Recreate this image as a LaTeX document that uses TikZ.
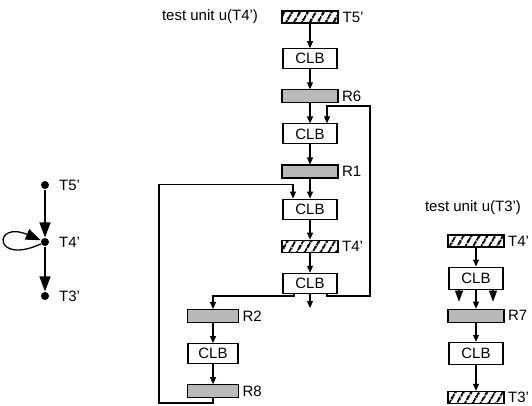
\documentclass[tikz,border=0pt]{standalone}
\usepackage{fontspec}
\setmainfont{Liberation Sans}
\usetikzlibrary{positioning,arrows.meta,patterns.meta}

\begin{document}
\begin{tikzpicture}[
  x=1pt, y=-1pt,
  node distance=20pt,
  font=\fontsize{15}{17}\selectfont,
  line width=1.1pt,
  clb/.style={draw,fill=white,minimum width=54pt,minimum height=20pt,inner sep=0pt},
  reg/.style={draw,fill=gray!55,minimum width=56pt,minimum height=13pt,inner sep=0pt},
  tst/.style={draw,minimum width=56pt,minimum height=12pt,inner sep=0pt,
              pattern={Lines[angle=60,distance=6.5pt,line width=2.3pt]}},
  lbl/.style={inner sep=1pt},
  arr/.style={-{Triangle[length=7pt,width=6pt]}},
  sarr/.style={-{Triangle[length=11pt,width=8pt]}},
  vtx/.style={circle,fill,inner sep=0pt,minimum size=8pt},
  garr/.style={-{Triangle[length=15pt,width=11pt]},line width=1.3pt},
]
\useasboundingbox (0,0) rectangle (532,405);

% graph
\node[vtx] (v5) at (45,185) {};
\node[vtx] (v4) at (45,242) {};
\node[vtx] (v3) at (45,296) {};
\node[lbl, right=8pt of v5] {T5'};
\node[lbl, right=8pt of v4] {T4'};
\node[lbl, right=8pt of v3] {T3'};
\draw[garr] (v5) -- (v4);
\draw[garr] (v4) -- (v3);
\draw[garr] (v4) .. controls +(-52,24) and +(-52,-22) .. (v4);

% test unit u(T4')
\node[lbl] (ttl4) at (210,17) {test unit u(T4')};
\node[tst] (t5) at (310,17) {};
\node[clb, below=24pt of t5] (c1) {CLB};
\node[reg, below=of c1] (r6) {};
\node[clb, below=of r6] (c2) {CLB};
\node[reg, below=of c2] (r1) {};
\node[clb, below=of r1] (c3) {CLB};
\node[tst, below=of c3] (t4) {};
\node[clb, below=of t4] (c4) {CLB};
\node[lbl, right=2pt of t5] {T5'};
\node[lbl, right=2pt of r6] {R6};
\node[lbl, right=2pt of r1] {R1};
\node[lbl, right=2pt of t4] {T4'};

\node[reg, minimum width=51pt] (r2) at (213,316) {};
\node[clb, minimum width=50pt, below=of r2] (c5) {CLB};
\node[reg, minimum width=51pt, below=of c5] (r8) {};
\node[lbl, right=2pt of r2] {R2};
\node[lbl, right=2pt of r8] {R8};

\coordinate (split) at (310,296);
\coordinate (exit) at (310,308);
\coordinate (loopr) at (370,106);
\coordinate (loopl) at (159,403);

\draw[arr] (t5) -- (c1);
\draw[arr] (c1) -- (r6);
\draw[arr] (r6) -- (c2);
\draw[arr] (c2) -- (r1);
\draw[arr] (r1) -- (c3);
\draw[arr] (c3) -- (t4);
\draw[arr] (t4) -- (c4);
\draw[arr] (c4) -- (exit);
\draw[arr] ([xshift=-16pt]c4.south) |- (split -| r2) -- (r2);
\draw[arr] ([xshift=17pt]c4.south) |- (split -| loopr) -- (loopr) -| ([xshift=17pt]c2.north);
\draw[arr] (r2) -- (c5);
\draw[arr] (c5) -- (r8);
\draw[arr] (r8) |- (loopl) |- ([xshift=-17pt,yshift=14pt]c3.north) -- ([xshift=-17pt]c3.north);

% test unit u(T3')
\node[lbl] (ttl3) at (473,208) {test unit u(T3')};
\node[tst] (rt4) at (476,241) {};
\node[clb, minimum height=22pt, below=19pt of rt4] (rc1) {CLB};
\node[reg, below=19pt of rc1] (r7) {};
\node[clb, minimum height=22pt, below=19pt of r7] (rc2) {CLB};
\node[tst, below=26pt of rc2] (rt3) {};
\node[lbl, right=2pt of rt4] {T4'};
\node[lbl, right=2pt of r7] {R7};
\node[lbl, right=2pt of rt3] {T3'};

\draw[arr] (rt4) -- (rc1);
\draw[arr] (rc1) -- (r7);
\draw[sarr] ([xshift=-17pt]rc1.south) -- ([xshift=-17pt,yshift=-12pt]rc1.south);
\draw[sarr] ([xshift=17pt]rc1.south) -- ([xshift=17pt,yshift=-12pt]rc1.south);
\draw[arr] (r7) -- (rc2);
\draw[arr] (rc2) -- (rt3);
\end{tikzpicture}
\end{document}
